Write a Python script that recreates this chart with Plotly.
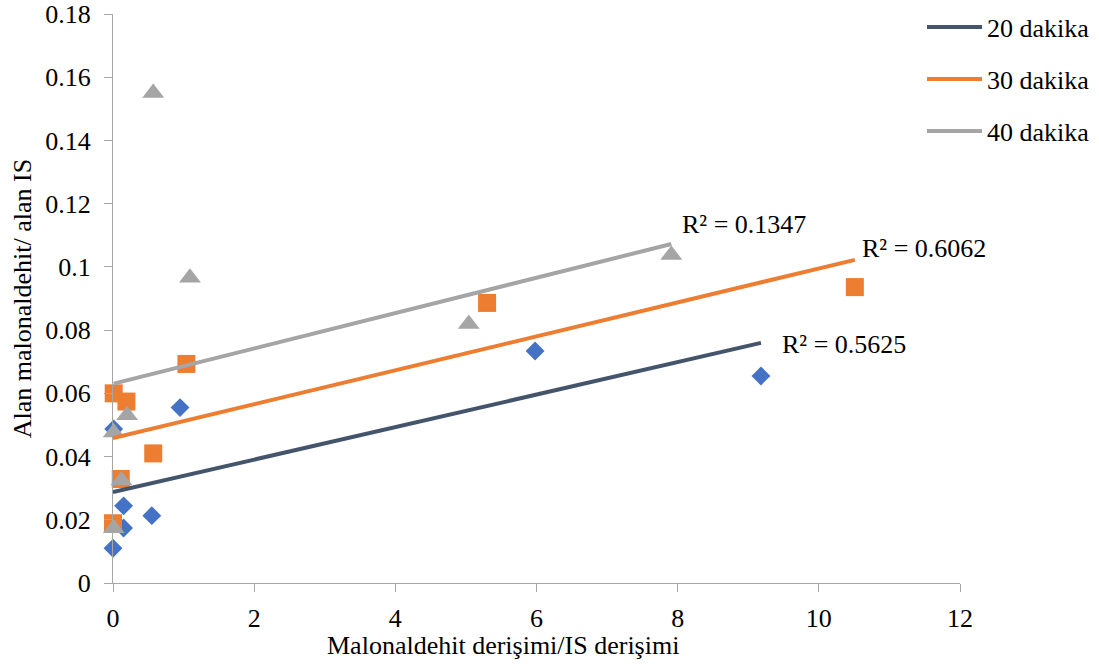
import numpy as np
import plotly.graph_objects as go

# ---- data ----
x20 = [0.0, 0.01, 0.15, 0.15, 0.55, 0.95, 5.98, 9.18]
y20 = [0.0110, 0.0487, 0.0174, 0.0244, 0.0213, 0.0555, 0.0734, 0.0655]

x30 = [0.01, 0.19, 0.57, 0.11, 0.0, 1.04, 5.30, 10.51]
y30 = [0.0600, 0.0574, 0.0410, 0.0329, 0.0189, 0.0693, 0.0886, 0.0936]

x40 = [0.57, 1.09, 0.20, 0.01, 0.12, 0.01, 5.04, 7.91]
y40 = [0.1550, 0.0966, 0.0531, 0.0476, 0.0324, 0.0173, 0.0819, 0.1038]

series_names = ["20 dakika", "30 dakika", "40 dakika"]
r2_labels = ["R² = 0.5625", "R² = 0.6062", "R² = 0.1347"]

x_ticks = [0, 2, 4, 6, 8, 10, 12]
y_ticks = [0, 0.02, 0.04, 0.06, 0.08, 0.1, 0.12, 0.14, 0.16, 0.18]

x_title = "Malonaldehit derişimi/IS derişimi"
y_title = "Alan malonaldehit/ alan IS"

FONT = "Liberation Serif"
FS = 26
marker_colors = ["#4472C4", "#ED7D31", "#A5A5A5"]
line_colors = ["#44546A", "#ED7D31", "#A5A5A5"]
symbols = ["diamond", "square", "triangle-up"]
sizes = [14.5, 18, 19]

fig = go.Figure()
data = [(x20, y20), (x30, y30), (x40, y40)]

for (xs, ys), c, s, sz, n in zip(data, marker_colors, symbols, sizes, series_names):
    fig.add_trace(go.Scatter(x=xs, y=ys, mode="markers", name=n, showlegend=False, cliponaxis=False,
                             marker=dict(color=c, symbol=s, size=sz, line=dict(width=0))))

# linear trendlines (least squares), spanning min..max x like Excel
legend_ids = ["legend", "legend2", "legend3"]
label_pos = [(9.45, 0.0753), (10.58, 0.1057), (8.03, 0.1133)]
for i, ((xs, ys), lc, n) in enumerate(zip(data, line_colors, series_names)):
    m, b = np.polyfit(xs, ys, 1)
    x0, x1 = min(xs), max(xs)
    fig.add_trace(go.Scatter(x=[x0, x1], y=[m * x0 + b, m * x1 + b], mode="lines", name=n,
                             legend=legend_ids[i], cliponaxis=False, line=dict(color=lc, width=4)))
    fig.add_annotation(x=label_pos[i][0], y=label_pos[i][1], text=r2_labels[i], showarrow=False,
                       xanchor="left", yanchor="middle", font=dict(family=FONT, size=FS, color="black"))

# x-axis title (placed as in the reference, slightly left of plot centre)
fig.add_annotation(xref="paper", yref="paper", x=(503 - 113) / 847, y=-(645 - 583) / 569,
                   text=x_title, showarrow=False, xanchor="center", yanchor="middle",
                   font=dict(family=FONT, size=FS, color="black"))

tickfont = dict(family=FONT, size=FS, color="black")
axis_common = dict(showgrid=False, zeroline=False, showline=True, linecolor="#A6A6A6", linewidth=1.3,
                   ticks="outside", ticklen=8, tickcolor="#A6A6A6", tickwidth=1.3)

fig.update_xaxes(range=[0, 12], tickvals=x_ticks, ticktext=[str(t) for t in x_ticks], tickfont=tickfont,
                 ticklabelstandoff=4, **axis_common)
fig.update_yaxes(range=[0, 0.18], tickvals=y_ticks, ticktext=[("%g" % t) for t in y_ticks], tickfont=tickfont,
                 ticklabelstandoff=8,
                 title=dict(text=y_title, font=dict(family=FONT, size=FS, color="black"), standoff=6),
                 **axis_common)

legend_common = dict(xref="container", yref="container", xanchor="left", yanchor="middle",
                     itemwidth=55, font=dict(family=FONT, size=FS, color="black"), bgcolor="rgba(0,0,0,0)")
legend_y = [27, 79, 131]
fig.update_layout(
    width=1099, height=664,
    margin=dict(l=113, r=139, t=14, b=81, autoexpand=False),
    plot_bgcolor="white", paper_bgcolor="white",
    font=dict(family=FONT, size=FS, color="black"),
    showlegend=True,
    legend=dict(x=922 / 1099, y=1 - legend_y[0] / 664, **legend_common),
    legend2=dict(x=922 / 1099, y=1 - legend_y[1] / 664, **legend_common),
    legend3=dict(x=922 / 1099, y=1 - legend_y[2] / 664, **legend_common),
)

fig.write_html("out.html")
